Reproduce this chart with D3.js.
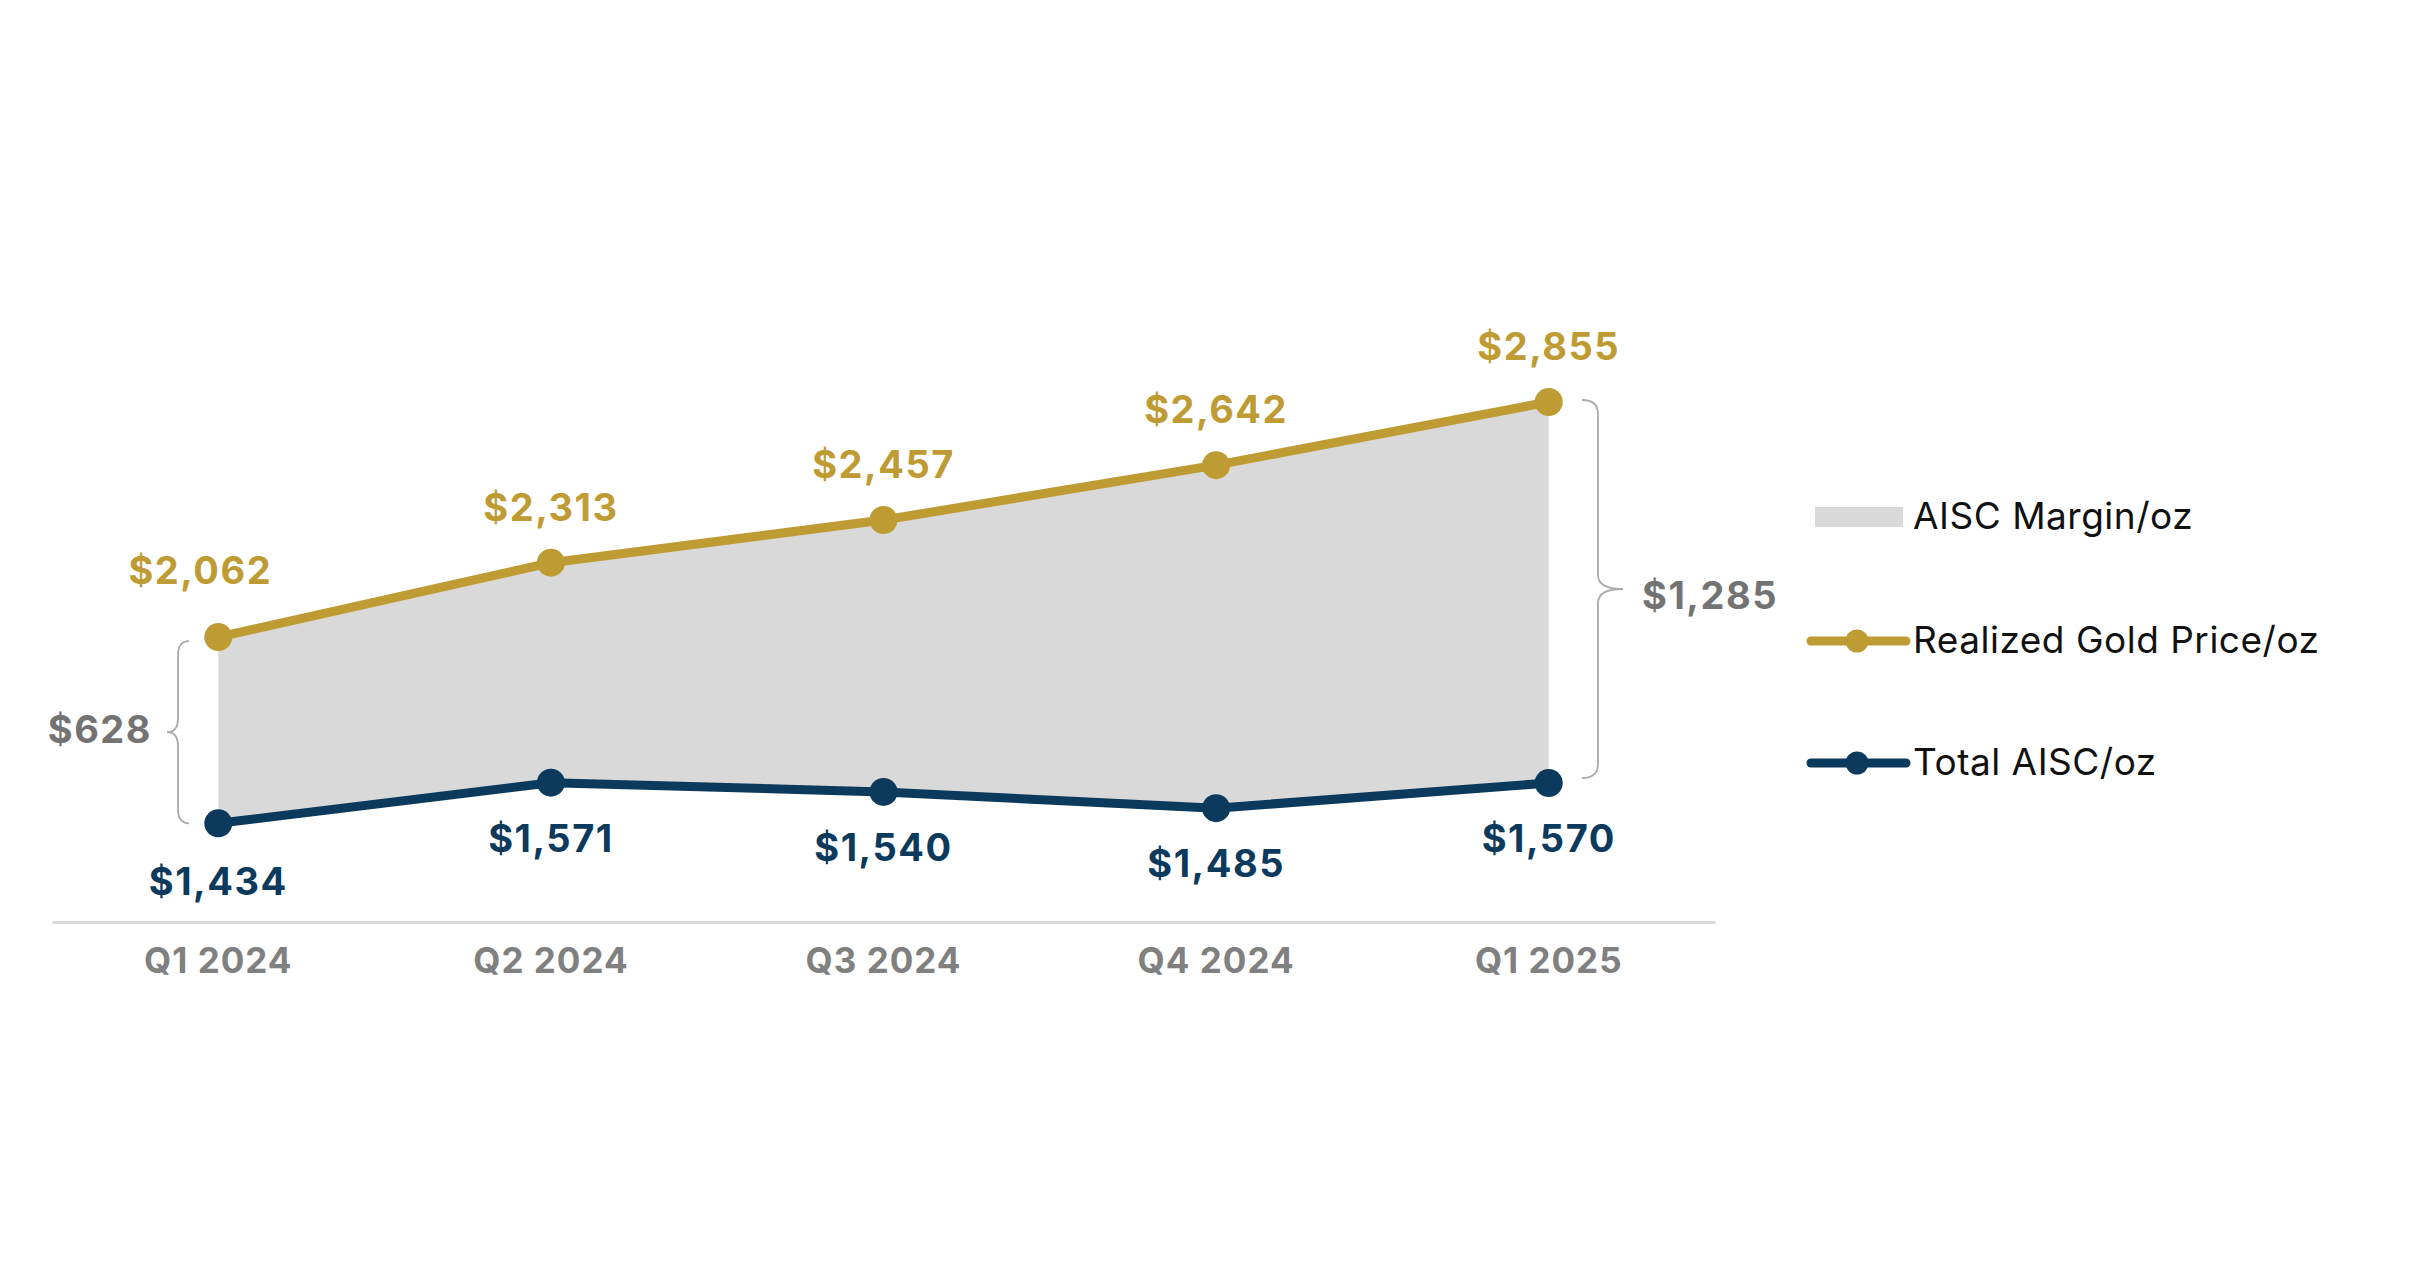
<!DOCTYPE html>
<html>
<head>
<meta charset="utf-8">
<script src="https://cdn.jsdelivr.net/npm/d3@7"></script>
<style>
  body { margin: 0; background: #fff; }
  svg { display: block; font-family: Inter, "Open Sans", sans-serif; }
</style>
</head>
<body>
<div id="chart"></div>
<script>
var svgWidth = 2415;
var svgHeight = 1266;

// values
var quarters = ["Q1 2024", "Q2 2024", "Q3 2024", "Q4 2024", "Q1 2025"];
var goldPrice = [2062, 2313, 2457, 2642, 2855];
var totalAisc = [1434, 1571, 1540, 1485, 1570];
var legendNames = ["AISC Margin/oz", "Realized Gold Price/oz", "Total AISC/oz"];

var gold = "#bf9b33";
var navy = "#0b3a5d";
var fillGray = "#d9d9d9";
var labelGray = "#737373";
var axisGray = "#808080";

var data = quarters.map(function (q, i) {
    return { q: q, gold: goldPrice[i], aisc: totalAisc[i] };
});

var svg = d3.select("#chart")
    .append("svg")
    .attr("width", svgWidth)
    .attr("height", svgHeight);

var x = d3.scaleBand().domain(quarters).range([52, 1715]).padding(0);
var cx = function (d) { return x(d.q) + x.bandwidth() / 2; };
var y = d3.scaleLinear().domain([1000, 3000]).range([952, 359]);

// margin area
var area = d3.area()
    .x(cx)
    .y0(function (d) { return y(d.aisc); })
    .y1(function (d) { return y(d.gold); });

svg.append("path")
    .datum(data)
    .attr("d", area)
    .attr("fill", fillGray);

// x axis
var xAxis = svg.append("g")
    .attr("transform", "translate(0,922)")
    .call(d3.axisBottom(x).tickSize(0).tickSizeOuter(0));

xAxis.select(".domain")
    .attr("stroke", "#d9d9d9")
    .attr("stroke-width", 3);

xAxis.selectAll("text")
    .attr("y", 51)
    .attr("dy", 0)
    .attr("fill", axisGray)
    .attr("font-size", 35)
    .attr("font-weight", 700)
    .attr("letter-spacing", 1)
    .attr("font-family", "Inter, sans-serif");

// lines
function drawSeries(key, color) {
    var line = d3.line().x(cx).y(function (d) { return y(d[key]); });
    svg.append("path")
        .datum(data)
        .attr("d", line)
        .attr("fill", "none")
        .attr("stroke", color)
        .attr("stroke-width", 9)
        .attr("stroke-linejoin", "round");

    svg.selectAll(".dot-" + key)
        .data(data)
        .enter().append("circle")
        .attr("class", "dot-" + key)
        .attr("cx", cx)
        .attr("cy", function (d) { return y(d[key]); })
        .attr("r", 14)
        .attr("fill", color);
}
drawSeries("gold", gold);
drawSeries("aisc", navy);

var fmt = d3.format("$,");

svg.selectAll(".lbl-gold")
    .data(data)
    .enter().append("text")
    .attr("x", function (d, i) { return cx(d) - (i === 0 ? 18 : 0); })
    .attr("y", function (d, i) { return y(d.gold) - (i === 0 ? 53 : 42); })
    .attr("text-anchor", "middle")
    .attr("font-size", 38)
    .attr("font-weight", 700)
    .attr("letter-spacing", 1.5)
    .attr("fill", gold)
    .text(function (d) { return fmt(d.gold); });

svg.selectAll(".lbl-aisc")
    .data(data)
    .enter().append("text")
    .attr("x", cx)
    .attr("y", function (d, i) { return y(d.aisc) + (i === 0 ? 72 : 69); })
    .attr("text-anchor", "middle")
    .attr("font-size", 38)
    .attr("font-weight", 700)
    .attr("letter-spacing", 1.5)
    .attr("fill", navy)
    .text(function (d) { return fmt(d.aisc); });

// curly braces showing the margin
function brace(x0, top, bot, dir, spine, tip) {
    var xs = x0 + dir * spine;
    var xt = x0 + dir * tip;
    var mid = (top + bot) / 2;
    var r = 14;
    return "M" + x0 + "," + top +
        "Q" + xs + "," + top + " " + xs + "," + (top + r) +
        "L" + xs + "," + (mid - r) +
        "Q" + xs + "," + mid + " " + xt + "," + mid +
        "Q" + xs + "," + mid + " " + xs + "," + (mid + r) +
        "L" + xs + "," + (bot - r) +
        "Q" + xs + "," + bot + " " + x0 + "," + bot;
}

var first = data[0];
var last = data[data.length - 1];

svg.append("path")
    .attr("d", brace(189, y(first.gold) + 4, y(first.aisc), -1, 11, 22))
    .attr("fill", "none")
    .attr("stroke", "#aaaaaa")
    .attr("stroke-width", 1.8);

svg.append("path")
    .attr("d", brace(1582, y(last.gold) - 2, y(last.aisc) - 5, 1, 16, 41))
    .attr("fill", "none")
    .attr("stroke", "#aaaaaa")
    .attr("stroke-width", 1.8);

svg.append("text")
    .attr("x", 152)
    .attr("y", (y(first.gold) + y(first.aisc)) / 2 + 13)
    .attr("text-anchor", "end")
    .attr("font-size", 38)
    .attr("font-weight", 700)
    .attr("letter-spacing", 1.5)
    .attr("fill", labelGray)
    .text(fmt(first.gold - first.aisc));

svg.append("text")
    .attr("x", 1642)
    .attr("y", (y(last.gold) + y(last.aisc)) / 2 + 17)
    .attr("font-size", 38)
    .attr("font-weight", 700)
    .attr("letter-spacing", 1.5)
    .attr("fill", labelGray)
    .text(fmt(last.gold - last.aisc));

// legend
var legend = svg.append("g");
var rowY = [517, 641, 763];

legend.append("rect")
    .attr("x", 1815).attr("y", rowY[0] - 10)
    .attr("width", 88).attr("height", 20)
    .attr("fill", fillGray);

[gold, navy].forEach(function (c, i) {
    var ly = rowY[i + 1];
    legend.append("line")
        .attr("x1", 1811).attr("x2", 1906)
        .attr("y1", ly).attr("y2", ly)
        .attr("stroke", c)
        .attr("stroke-width", 9)
        .attr("stroke-linecap", "round");
    legend.append("circle")
        .attr("cx", 1857).attr("cy", ly)
        .attr("r", 11.5)
        .attr("fill", c);
});

legend.selectAll("text")
    .data(legendNames)
    .enter().append("text")
    .attr("x", 1913)
    .attr("y", function (d, i) { return rowY[i] + 12; })
    .attr("font-size", 37)
    .attr("letter-spacing", 0.5)
    .attr("fill", "#111")
    .text(function (d) { return d; });
</script>
</body>
</html>
